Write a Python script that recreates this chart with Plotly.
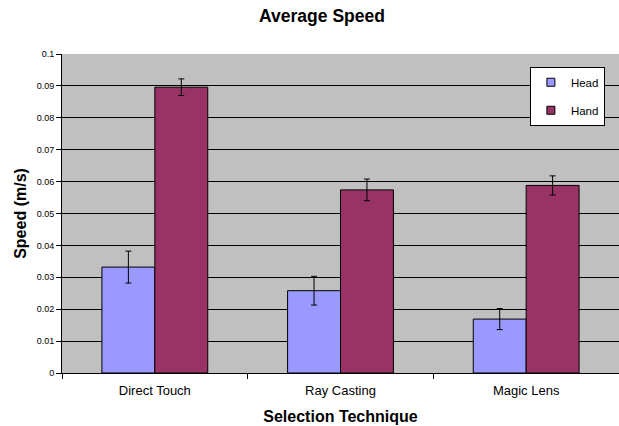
import plotly.graph_objects as go

categories = ["Direct Touch", "Ray Casting", "Magic Lens"]
head_speed = [0.0332, 0.0258, 0.0169]
head_err = [0.0050, 0.0045, 0.0033]
hand_speed = [0.0896, 0.0574, 0.0588]
hand_err = [0.0026, 0.0034, 0.0030]
y_ticks = [0, 0.01, 0.02, 0.03, 0.04, 0.05, 0.06, 0.07, 0.08, 0.09, 0.1]
y_tick_labels = ["0", "0.01", "0.02", "0.03", "0.04", "0.05", "0.06", "0.07", "0.08", "0.09", "0.1"]

FONT = "Liberation Sans, Arial, sans-serif"
HEAD_COLOR = "#9999FF"
HAND_COLOR = "#993366"

fig = go.Figure()
fig.add_trace(go.Bar(
    name="Head", x=categories, y=head_speed, showlegend=False,
    marker=dict(color=HEAD_COLOR, line=dict(color="black", width=1)),
    error_y=dict(type="data", array=head_err, color="black", thickness=1, width=3),
))
fig.add_trace(go.Bar(
    name="Hand", x=categories, y=hand_speed, showlegend=False,
    marker=dict(color=HAND_COLOR, line=dict(color="black", width=1)),
    error_y=dict(type="data", array=hand_err, color="black", thickness=1, width=3),
))
# legend-only entries with small square swatches
for nm, col in [("Head", HEAD_COLOR), ("Hand", HAND_COLOR)]:
    fig.add_trace(go.Scatter(
        name=nm, x=[None], y=[None], mode="markers", legendgroup=nm,
        marker=dict(symbol="square", size=8, color=col, line=dict(color="black", width=1)),
    ))

fig.update_layout(
    width=619, height=426,
    margin=dict(l=62, r=0, t=54, b=53),
    paper_bgcolor="white",
    plot_bgcolor="#C0C0C0",
    barmode="group", bargap=0.43, bargroupgap=0,
    font=dict(family=FONT, color="black"),
    title=dict(text="<b>Average Speed</b>", x=322 / 619, xref="container", xanchor="center",
               y=1 - 16 / 426, yref="container", yanchor="middle",
               font=dict(size=17.5, family=FONT, color="black")),
    legend=dict(x=0.84, y=0.96, xanchor="left", yanchor="top",
                bgcolor="white", bordercolor="black", borderwidth=1,
                font=dict(size=11.5, family=FONT), traceorder="grouped",
                tracegroupgap=9, itemwidth=30),
    showlegend=True,
)
fig.update_xaxes(
    title=dict(text="<b>Selection Technique</b>", font=dict(size=16, family=FONT), standoff=14),
    tickfont=dict(size=13, family=FONT), ticklabelstandoff=5,
    showline=True, linecolor="black", linewidth=1,
    ticks="outside", tickson="boundaries", ticklen=5, tickcolor="black",
    showgrid=False, mirror=False,
)
fig.update_yaxes(
    title=dict(text="<b>Speed (m/s)</b>", font=dict(size=16, family=FONT), standoff=6),
    range=[0, 0.1], tickvals=y_ticks, ticktext=y_tick_labels,
    tickfont=dict(size=9, family=FONT),
    showline=True, linecolor="black", linewidth=1,
    ticks="outside", ticklen=5, tickcolor="black",
    showgrid=True, gridcolor="black", gridwidth=1,
    zeroline=False,
)

fig.write_html("out.html", post_script="document.body.style.margin='0';",
               config={"displayModeBar": False})
